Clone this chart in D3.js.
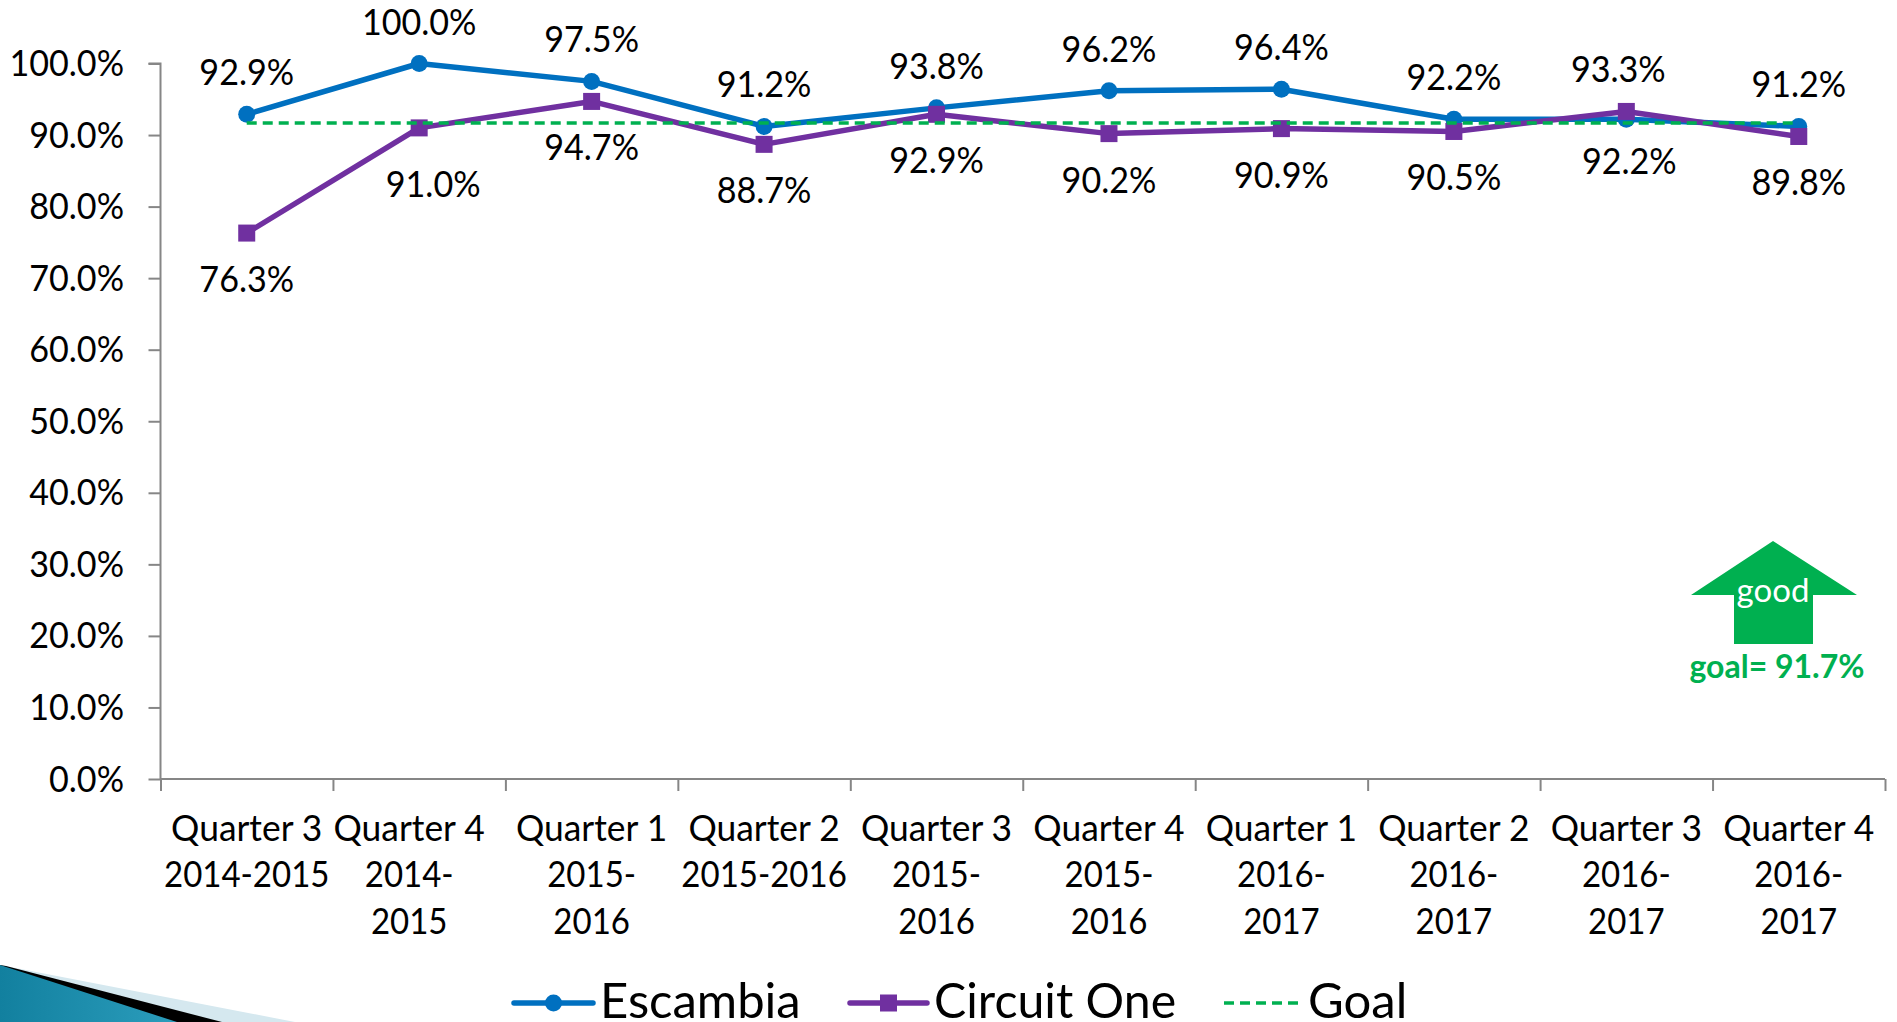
<!DOCTYPE html>
<html><head><meta charset="utf-8">
<script src="https://cdnjs.cloudflare.com/ajax/libs/d3/7.8.5/d3.min.js"></script>
<style>html,body{margin:0;padding:0;background:#fff;overflow:hidden}svg{display:block}text{font-family:Lato,"Open Sans",sans-serif}</style>
</head><body><svg id="c" width="1897" height="1022"></svg>
<script>
const categories=[["Quarter 3","2014-2015"],["Quarter 4","2014-","2015"],["Quarter 1","2015-","2016"],["Quarter 2","2015-2016"],["Quarter 3","2015-","2016"],["Quarter 4","2015-","2016"],["Quarter 1","2016-","2017"],["Quarter 2","2016-","2017"],["Quarter 3","2016-","2017"],["Quarter 4","2016-","2017"]];
const escambia=[92.9,100.0,97.5,91.2,93.8,96.2,96.4,92.2,92.2,91.2];
const circuitOne=[76.3,91.0,94.7,88.7,92.9,90.2,90.9,90.5,93.3,89.8];
const goal=[91.7,91.7,91.7,91.7,91.7,91.7,91.7,91.7,91.7,91.7];
const yTicks=[0,10,20,30,40,50,60,70,80,90,100];
const BLUE="#0070c0",PURPLE="#7030a0",GREEN="#00b050",AXIS="#868686";
const SX=0.935,FS=36.5;
const svg=d3.select("#c");
const idx=categories.map((_,i)=>i);
const x=d3.scalePoint().domain(idx).range([160.5,1885]).padding(0.5);
const y=d3.scaleLinear().domain([0,100]).range([779,63.5]);
function T(g,s,px,py,anchor,size,fill,weight,sx){
  return g.append("text").text(s).attr("transform",`translate(${px},${py}) scale(${sx||SX},1)`)
   .attr("text-anchor",anchor||"middle").attr("font-size",size||FS).attr("fill",fill||"#000").attr("font-weight",weight||400);
}
// corner decoration
const defs=svg.append("defs");
const gr=defs.append("linearGradient").attr("id","teal").attr("x1",0).attr("x2",1).attr("y1",0).attr("y2",0);
gr.append("stop").attr("offset",0).attr("stop-color","#12809f");
gr.append("stop").attr("offset",1).attr("stop-color","#2b9dbc");
const corner=svg.append("g");
corner.append("polygon").attr("points","0,965 295,1022 0,1022").attr("fill","#d5e8ef");
corner.append("polygon").attr("points","6,966 222,1022 0,1022 0,965").attr("fill","#000");
corner.append("polygon").attr("points","0,965 177,1022 0,1022").attr("fill","url(#teal)");
// axes
const yAxis=svg.append("g").attr("transform","translate(160.5,0)").call(d3.axisLeft(y).tickValues(yTicks).tickSize(12).tickFormat(""));
yAxis.selectAll("line,path").attr("stroke",AXIS).attr("stroke-width",2);
yAxis.select("path").attr("d",`M-12,${y(100)}H0V${y(0)}`);
const xb=d3.scaleLinear().domain([0,10]).range([160.5,1885]);
const xAxis=svg.append("g").attr("transform",`translate(0,${y(0)})`).call(d3.axisBottom(xb).tickValues(d3.range(0,11)).tickSize(12).tickFormat(""));
xAxis.selectAll("line,path").attr("stroke",AXIS).attr("stroke-width",2);
xAxis.select("path").attr("d",`M160.5,0H1885`);
const lab=svg.append("g");
yTicks.forEach(t=>T(lab,d3.format(".1f")(t)+"%",124,y(t)+12.5,"end"));
const catDx=[0,-10,0,0,0,0,0,0,0,0];
categories.forEach((c,i)=>c.forEach((l,k)=>T(lab,l,x(i)+catDx[i],841+k*46.3,"middle",FS,"#000",400,l.startsWith("Q")?0.97:0.905)));
// lines
const line=d3.line().x((d,i)=>x(i)).y(d=>y(d));
svg.append("path").datum(escambia).attr("d",line).attr("fill","none").attr("stroke",BLUE).attr("stroke-width",5.5).attr("stroke-linejoin","round");
svg.append("path").datum(circuitOne).attr("d",line).attr("fill","none").attr("stroke",PURPLE).attr("stroke-width",5.5).attr("stroke-linejoin","round");
svg.selectAll(".e").data(escambia).join("circle").attr("cx",(d,i)=>x(i)).attr("cy",d=>y(d)).attr("r",8.5).attr("fill",BLUE);
svg.selectAll(".c").data(circuitOne).join("rect").attr("x",(d,i)=>x(i)-8.5).attr("y",d=>y(d)-8.5).attr("width",17).attr("height",17).attr("fill",PURPLE);
svg.append("path").datum(goal).attr("d",line).attr("fill","none").attr("stroke",GREEN).attr("stroke-width",3.5).attr("stroke-dasharray","10 6");
// data labels
const ABOVE=-41+12,BELOW=47+12;
escambia.forEach((v,i)=>T(lab,v.toFixed(1)+"%",x(i)+(i===8?3:0),y(v)+(i===8?BELOW-4:ABOVE)));
circuitOne.forEach((v,i)=>T(lab,v.toFixed(1)+"%",x(i)+(i===1?14:i===8?-8:0),y(v)+(i===8?ABOVE:i===1?BELOW+10:BELOW)));
// good arrow
svg.append("polygon").attr("points","1773,541 1857,595 1813,595 1813,644 1734,644 1734,595 1691,595").attr("fill",GREEN);
T(svg,"good",1773,602,"middle",33,"#fff",400,1);
T(svg,"goal= 91.7%",1777,678,"middle",32,GREEN,700,1);
// legend
const lg=svg.append("g");
const legend=[{n:"Escambia",c:BLUE,x0:514,x1:593,tx:600,m:"c"},{n:"Circuit One",c:PURPLE,x0:850,x1:927,tx:934,m:"s"},{n:"Goal",c:GREEN,x0:1224,x1:1300,tx:1308,m:"d"}];
legend.forEach(d=>{
  lg.append("line").attr("x1",d.x0).attr("x2",d.x1).attr("y1",1003).attr("y2",1003).attr("stroke",d.c).attr("stroke-width",d.m==="d"?3.5:5.5)
    .attr("stroke-linecap",d.m==="d"?"butt":"round").attr("stroke-dasharray",d.m==="d"?"10 6":null);
  const mx=(d.x0+d.x1)/2;
  if(d.m==="c")lg.append("circle").attr("cx",mx).attr("cy",1003).attr("r",8.5).attr("fill",d.c);
  if(d.m==="s")lg.append("rect").attr("x",mx-8.5).attr("y",994.5).attr("width",17).attr("height",17).attr("fill",d.c);
  T(lg,d.n,d.tx,1018,"start",49,"#000",400,d.n==="Circuit One"?0.985:1);
});
</script></body></html>
